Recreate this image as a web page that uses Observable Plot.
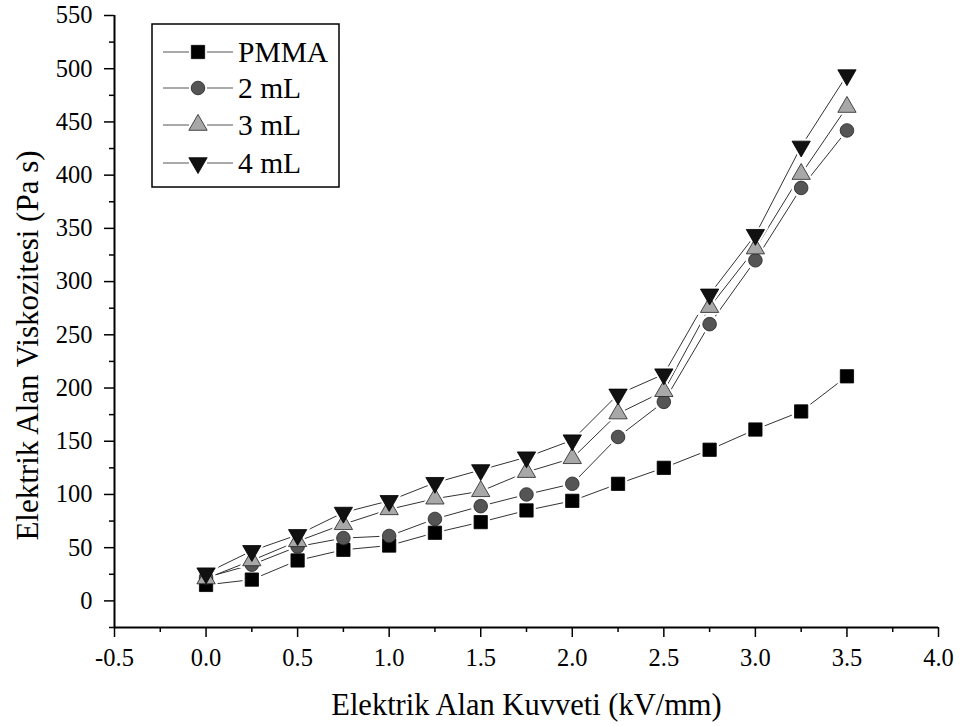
<!DOCTYPE html>
<html>
<head>
<meta charset="utf-8">
<script src="https://cdn.jsdelivr.net/npm/d3@7"></script>
<script src="https://cdn.jsdelivr.net/npm/@observablehq/plot@0.6"></script>
<style>
  html, body { margin: 0; padding: 0; background: #fff; }
  svg text { font-family: 'Liberation Serif', 'Times New Roman', serif !important; }
</style>
</head>
<body>
<div id="chart"></div>
<script>
// ---- data ----
const fieldStrength = [0, 0.25, 0.5, 0.75, 1.0, 1.25, 1.5, 1.75, 2.0, 2.25, 2.5, 2.75, 3.0, 3.25, 3.5];
const seriesNames = ["PMMA", "2 mL", "3 mL", "4 mL"];
const pmma = [15, 20, 38, 48, 52, 64, 74, 85, 94, 110, 125, 142, 161, 178, 211];
const ml2  = [22, 34, 51, 59, 61, 77, 89, 100, 110, 154, 187, 260, 320, 388, 442];
const ml3  = [21, 38, 56, 72, 86, 96, 103, 121, 134, 176, 197, 276, 331, 401, 464];
const ml4  = [26, 47, 62, 83, 94, 111, 123, 135, 151, 194, 213, 288, 344, 427, 494];
const xTicks = [-0.5, 0.0, 0.5, 1.0, 1.5, 2.0, 2.5, 3.0, 3.5, 4.0];
const yTicks = [0, 50, 100, 150, 200, 250, 300, 350, 400, 450, 500, 550];
const xLabel = "Elektrik Alan Kuvveti (kV/mm)";
const yLabel = "Elektrik Alan Viskozitesi (Pa s)";

// ---- styles ----
const triangleDown = {
  draw(context, size) {
    const y = -Math.sqrt(size / (Math.sqrt(3) * 3));
    context.moveTo(0, -y * 2);
    context.lineTo(Math.sqrt(3) * y, y);
    context.lineTo(-Math.sqrt(3) * y, y);
    context.closePath();
  }
};
const styles = {
  "PMMA": {symbol: "square", fill: "#000", stroke: "#000", r: 7.5},
  "2 mL": {symbol: "circle", fill: "#555", stroke: "#222", r: 6.8},
  "3 mL": {symbol: "triangle", fill: "#a8a8a8", stroke: "#222", r: 6.8},
  "4 mL": {symbol: triangleDown, fill: "#111", stroke: "#000", r: 6.8}
};

const valuesBySeries = {"PMMA": pmma, "2 mL": ml2, "3 mL": ml3, "4 mL": ml4};
const rows = seriesNames.flatMap(s => fieldStrength.map((x, i) => ({series: s, x, y: valuesBySeries[s][i]})));

const xMinor = d3.range(-0.25, 4.0, 0.5);
const yMinor = d3.range(-25, 551, 50);

const font = "'Liberation Serif', 'Times New Roman', serif";
const fmt1 = d => d.toFixed(1);

const marks = [
  Plot.ruleY([-25], {stroke: "#000", strokeWidth: 2}),
  Plot.ruleX([-0.5], {stroke: "#000", strokeWidth: 2}),
  Plot.axisX(xTicks, {tickSize: 10, tickPadding: 11, tickFormat: fmt1, fontSize: 24.5, label: null, strokeWidth: 1.5}),
  Plot.axisX(xMinor, {tickSize: 5, tickFormat: () => "", label: null, strokeWidth: 1.5}),
  Plot.axisY(yTicks, {tickSize: 10, tickPadding: 12, tickFormat: d => String(d), fontSize: 24.5, label: null, strokeWidth: 1.5}),
  Plot.axisY(yMinor, {tickSize: 5, tickFormat: () => "", label: null, strokeWidth: 1.5}),
  Plot.text([xLabel], {frameAnchor: "bottom", dy: 78, fontSize: 30.5, textAnchor: "middle", lineAnchor: "middle", fill: "#000"}),
  Plot.text([yLabel], {frameAnchor: "left", dx: -86, dy: 24, rotate: -90, fontSize: 31, textAnchor: "middle", lineAnchor: "middle", fill: "#000"})
];

for (const s of seriesNames) {
  marks.push(Plot.line(rows.filter(d => d.series === s), {x: "x", y: "y", stroke: "#333", strokeWidth: 1}));
}
for (const s of seriesNames) {
  const st = styles[s];
  marks.push(Plot.dot(rows.filter(d => d.series === s), {x: "x", y: "y", symbol: st.symbol, r: st.r + 3, fill: "#fff", stroke: "none"}));
}
for (const s of seriesNames) {
  const st = styles[s];
  marks.push(Plot.dot(rows.filter(d => d.series === s), {x: "x", y: "y", symbol: st.symbol, r: st.r, fill: st.fill, stroke: st.stroke, strokeWidth: 0.8}));
}

// legend (inside the plot frame, top-left)
marks.push(() => {
  const g = d3.create("svg:g");
  const bx = 152, by = 24, bw = 187, bh = 163;
  g.append("rect").attr("x", bx).attr("y", by).attr("width", bw).attr("height", bh)
    .attr("fill", "#fff").attr("stroke", "#000").attr("stroke-width", 1.5);
  const rowY = [52, 88, 125, 163];
  seriesNames.forEach((s, i) => {
    const st = styles[s];
    const y = rowY[i];
    g.append("line").attr("x1", 163).attr("x2", 189).attr("y1", y).attr("y2", y).attr("stroke", "#555").attr("stroke-width", 1);
    g.append("line").attr("x1", 207).attr("x2", 233).attr("y1", y).attr("y2", y).attr("stroke", "#555").attr("stroke-width", 1);
    const symType = st.symbol === "square" ? d3.symbolSquare : st.symbol === "circle" ? d3.symbolCircle : st.symbol === "triangle" ? d3.symbolTriangle : st.symbol;
    g.append("path")
      .attr("d", d3.symbol(symType, Math.PI * st.r * st.r)())
      .attr("transform", `translate(198,${y})`)
      .attr("fill", st.fill).attr("stroke", st.stroke).attr("stroke-width", 0.8);
    g.append("text").attr("x", 238).attr("y", y).attr("dy", "0.34em")
      .attr("text-anchor", "start")
      .attr("font-size", 29.5).attr("fill", "#000").text(s);
  });
  return g.node();
});

const chart = Plot.plot({
  width: 963,
  height: 726,
  marginLeft: 114,
  marginRight: 25,
  marginTop: 15,
  marginBottom: 99,
  x: {domain: [-0.5, 4.0], axis: null},
  y: {domain: [-25, 550], axis: null},
  style: {fontFamily: font, color: "#000", background: "#fff"},
  marks
});
document.getElementById("chart").appendChild(chart);
</script>
</body>
</html>
